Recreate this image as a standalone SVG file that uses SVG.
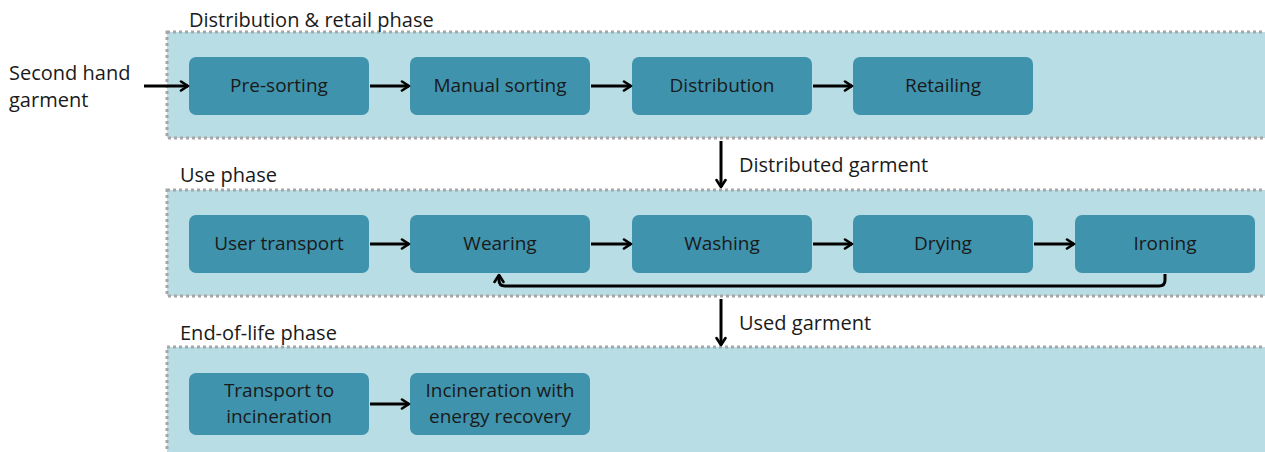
<svg xmlns="http://www.w3.org/2000/svg" width="1265" height="452" viewBox="0 0 1265 452">
  <defs>
    <style>
      .band { fill: #b9dde4; stroke: #a6a6a6; stroke-width: 3; stroke-dasharray: 3 3; }
      .box { fill: #3f93ad; }
      .lbl { font-family: "Open Sans", "Noto Sans", sans-serif; font-size: 19px; fill: #1a1a1a; text-anchor: middle; dominant-baseline: central; }
      .title { font-family: "Open Sans", "Noto Sans", sans-serif; font-size: 20px; fill: #1a1a1a; }
      .edge { fill: none; stroke: #000; stroke-width: 3; }
    </style>
    <marker id="arrow" viewBox="0 0 12 12" refX="10" refY="6" markerWidth="12" markerHeight="12" markerUnits="userSpaceOnUse" orient="auto">
      <path d="M3,1.5 L10,6 L3,10.5" fill="none" stroke="#000" stroke-width="2.6" stroke-linecap="round" stroke-linejoin="round"/>
    </marker>
  </defs>

  <!-- phase bands -->
  <g id="phase-distribution">
    <rect class="band" x="167" y="32" width="1110" height="106"/>
    <text class="title" x="189" y="27">Distribution &amp; retail phase</text>
  </g>
  <g id="phase-use">
    <rect class="band" x="167" y="190" width="1110" height="106"/>
    <text class="title" x="180" y="182">Use phase</text>
  </g>
  <g id="phase-eol">
    <rect class="band" x="167" y="347" width="1110" height="120"/>
    <text class="title" x="180" y="340">End-of-life phase</text>
  </g>

  <!-- input label -->
  <g id="input">
    <text class="title" x="9" y="80">Second hand</text>
    <text class="title" x="9" y="107">garment</text>
  </g>

  <!-- distribution & retail steps -->
  <g id="pre-sorting"><rect class="box" x="189" y="57" width="180" height="58" rx="7"/><text class="lbl" x="279" y="85">Pre-sorting</text></g>
  <g id="manual-sorting"><rect class="box" x="410" y="57" width="180" height="58" rx="7"/><text class="lbl" x="500" y="85">Manual sorting</text></g>
  <g id="distribution"><rect class="box" x="632" y="57" width="180" height="58" rx="7"/><text class="lbl" x="722" y="85">Distribution</text></g>
  <g id="retailing"><rect class="box" x="853" y="57" width="180" height="58" rx="7"/><text class="lbl" x="943" y="85">Retailing</text></g>

  <!-- use steps -->
  <g id="user-transport"><rect class="box" x="189" y="215" width="180" height="58" rx="7"/><text class="lbl" x="279" y="243">User transport</text></g>
  <g id="wearing"><rect class="box" x="410" y="215" width="180" height="58" rx="7"/><text class="lbl" x="500" y="243">Wearing</text></g>
  <g id="washing"><rect class="box" x="632" y="215" width="180" height="58" rx="7"/><text class="lbl" x="722" y="243">Washing</text></g>
  <g id="drying"><rect class="box" x="853" y="215" width="180" height="58" rx="7"/><text class="lbl" x="943" y="243">Drying</text></g>
  <g id="ironing"><rect class="box" x="1075" y="215" width="180" height="58" rx="7"/><text class="lbl" x="1165" y="243">Ironing</text></g>

  <!-- end-of-life steps -->
  <g id="transport-incineration"><rect class="box" x="189" y="373" width="180" height="62" rx="7"/><text class="lbl" x="279" y="390">Transport to</text><text class="lbl" x="279" y="416">incineration</text></g>
  <g id="incineration"><rect class="box" x="410" y="373" width="180" height="62" rx="7"/><text class="lbl" x="500" y="390">Incineration with</text><text class="lbl" x="500" y="416">energy recovery</text></g>

  <!-- connectors -->
  <g id="connectors">
    <line class="edge" x1="144" y1="86" x2="188" y2="86" marker-end="url(#arrow)"/>
    <line class="edge" x1="370" y1="86" x2="409" y2="86" marker-end="url(#arrow)"/>
    <line class="edge" x1="591" y1="86" x2="631" y2="86" marker-end="url(#arrow)"/>
    <line class="edge" x1="813" y1="86" x2="852" y2="86" marker-end="url(#arrow)"/>

    <line class="edge" x1="721" y1="141" x2="721" y2="187" marker-end="url(#arrow)"/>
    <text class="title" x="739" y="172">Distributed garment</text>

    <line class="edge" x1="370" y1="244" x2="409" y2="244" marker-end="url(#arrow)"/>
    <line class="edge" x1="591" y1="244" x2="631" y2="244" marker-end="url(#arrow)"/>
    <line class="edge" x1="813" y1="244" x2="852" y2="244" marker-end="url(#arrow)"/>
    <line class="edge" x1="1034" y1="244" x2="1074" y2="244" marker-end="url(#arrow)"/>
    <path class="edge" d="M1165,274 V280 Q1165,286 1159,286 H505 Q499,286 499,280 V275" marker-end="url(#arrow)"/>

    <line class="edge" x1="721" y1="299" x2="721" y2="345" marker-end="url(#arrow)"/>
    <text class="title" x="739" y="330">Used garment</text>

    <line class="edge" x1="370" y1="404" x2="409" y2="404" marker-end="url(#arrow)"/>
  </g>
</svg>
